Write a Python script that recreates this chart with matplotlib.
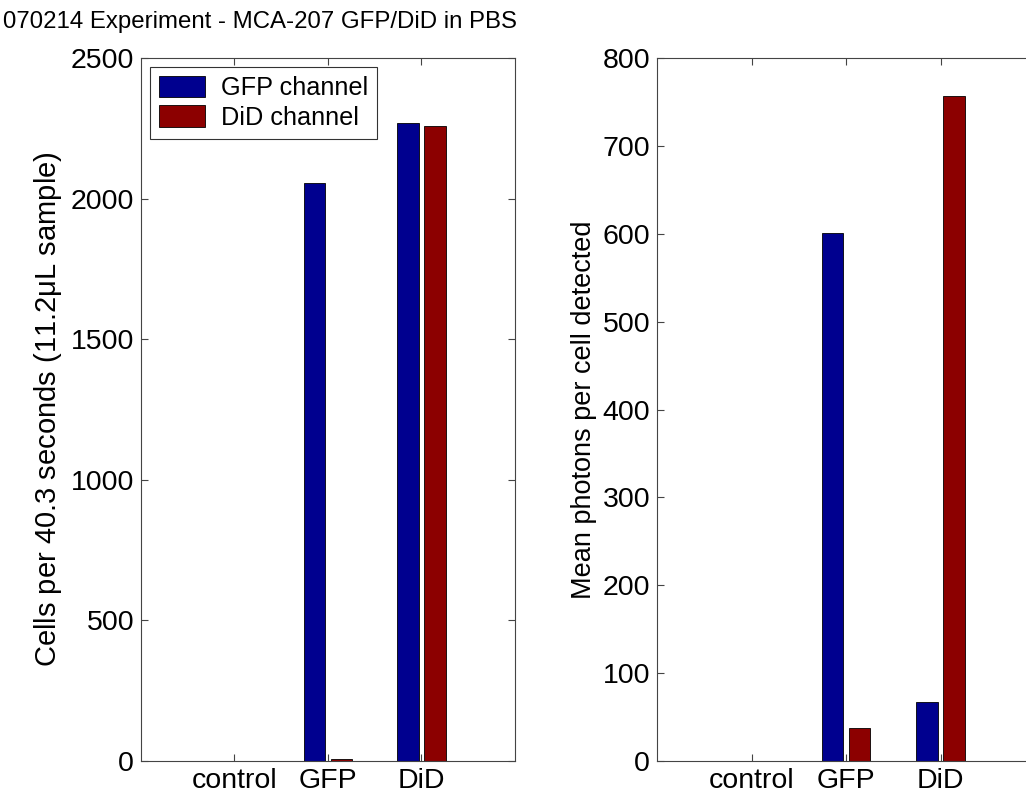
import matplotlib
matplotlib.use("Agg")
import matplotlib.pyplot as plt
import numpy as np

plt.rcParams['font.family'] = ['Liberation Sans', 'DejaVu Sans']
plt.rcParams['mathtext.fontset'] = 'custom'
plt.rcParams['mathtext.rm'] = 'Liberation Sans'
plt.rcParams['mathtext.it'] = 'Liberation Sans'

# sample groups and channel readings
groups = ['control', 'GFP', 'DiD']
channels = ['GFP channel', 'DiD channel']
cells_gfp = [0, 2055, 2268]
cells_did = [0, 6, 2258]
photons_gfp = [0, 601, 67]
photons_did = [0, 38, 757]

blue = '#00008f'
red = '#8c0000'

W, H = 1026, 795
fig = plt.figure(figsize=(W / 100, H / 100), dpi=100)


def px_axes(x0, y0, x1, y1):
    # axes placed by pixel corners (top-left origin)
    return fig.add_axes([x0 / W, (H - y1) / H, (x1 - x0) / W, (y1 - y0) / H])


def grouped(ax, a, b, ymax, yticks):
    x = np.arange(1, len(groups) + 1)
    gw = min(0.8, 2 / 3.5)
    bw = gw / 2 * 0.8
    off = gw / 4
    ax.bar(x - off, a, bw, color=blue, edgecolor='black', linewidth=0.6, label=channels[0])
    ax.bar(x + off, b, bw, color=red, edgecolor='black', linewidth=0.6, label=channels[1])
    ax.set_xlim(0, 4)
    ax.set_ylim(0, ymax)
    ax.set_xticks(x)
    ax.set_xticklabels(groups)
    ax.set_yticks(yticks)
    ax.tick_params(direction='in', top=True, right=True, length=5,
                   width=0.8, labelsize=20.5, pad=5, colors='#444444',
                   labelcolor='black')
    for s in ax.spines.values():
        s.set_linewidth(0.8)
        s.set_color('#444444')


ax1 = px_axes(141, 58, 515, 761)
grouped(ax1, cells_gfp, cells_did, 2500, np.arange(0, 2501, 500))
ax1.set_ylabel(r'Cells per 40.3 seconds (11.2$\mu$L sample)', fontsize=21)
ax1.yaxis.set_label_coords(-0.205, 0.5)
leg = ax1.legend(loc='upper left', fontsize=18.2, frameon=True, fancybox=False,
                 edgecolor='black', borderaxespad=0.35, handlelength=1.85,
                 handleheight=0.95, labelspacing=0.2, borderpad=0.35,
                 handletextpad=0.6)
leg.get_frame().set_linewidth(0.8)

ax2 = px_axes(657, 58, 1035, 761)
grouped(ax2, photons_gfp, photons_did, 800, np.arange(0, 801, 100))
ax2.set_ylabel('Mean photons per cell detected', fontsize=19.5)
ax2.yaxis.set_label_coords(-0.16, 0.5)

fig.text(3 / W, 1 - 22 / H, '070214 Experiment - MCA-207 GFP/DiD in PBS',
         fontsize=17.3, ha='left', va='center')

fig.savefig('out.png', dpi=100)
